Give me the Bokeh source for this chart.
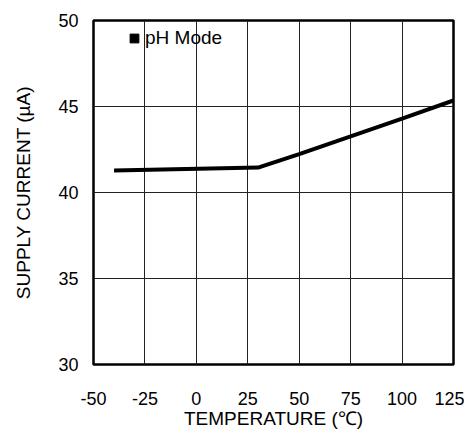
from bokeh.plotting import figure
from bokeh.models import Range1d, FixedTicker, Legend, LegendItem
from bokeh.embed import file_html
from bokeh.resources import INLINE

# data
temperature = [-40, 30, 50, 75, 100, 125]
supply_current = [41.28, 41.45, 42.23, 43.26, 44.30, 45.35]
x_ticks = [-50, -25, 0, 25, 50, 75, 100, 125]
y_ticks = [30, 35, 40, 45, 50]
series_name = "pH Mode"

FONT = "Liberation Sans"

p = figure(width=464, height=431, output_backend="svg", toolbar_location=None,
           x_range=Range1d(-50, 125), y_range=Range1d(30, 50),
           min_border_left=93, min_border_right=11, min_border_top=20, min_border_bottom=67)

p.background_fill_color = "white"
p.border_fill_color = "white"
p.outline_line_color = "black"
p.outline_line_width = 2.5

for ax in (p.xaxis[0], p.yaxis[0]):
    ax.axis_line_color = None
    ax.major_tick_line_color = None
    ax.minor_tick_line_color = None
    ax.major_label_text_font = FONT
    ax.major_label_text_font_size = "18px"
    ax.major_label_text_color = "black"
    ax.axis_label_text_font = FONT
    ax.axis_label_text_font_size = "19px"
    ax.axis_label_text_font_style = "normal"
    ax.axis_label_text_color = "black"

p.xaxis.ticker = FixedTicker(ticks=x_ticks)
p.yaxis.ticker = FixedTicker(ticks=y_ticks)
p.xaxis.major_label_overrides = {t: str(t) for t in x_ticks}
p.yaxis.major_label_overrides = {t: str(t) for t in y_ticks}
p.xaxis.axis_label = "TEMPERATURE (℃)"
p.yaxis.axis_label = "SUPPLY CURRENT (µA)"
p.xaxis.major_label_standoff = 21
p.xaxis.axis_label_standoff = 0
p.yaxis.major_label_standoff = 9
p.yaxis.axis_label_standoff = 21

p.xgrid.ticker = FixedTicker(ticks=x_ticks)
p.ygrid.ticker = FixedTicker(ticks=y_ticks)
p.grid.grid_line_color = "#222222"
p.grid.grid_line_width = 1

p.line(temperature, supply_current, line_color="black", line_width=4)
marker = p.scatter(temperature, supply_current, marker="square", size=0,
                   fill_color="black", line_color="black")

legend = Legend(items=[LegendItem(label=series_name, renderers=[marker])],
                location=(30, 315), padding=0, margin=0, spacing=0,
                glyph_width=22, glyph_height=22, label_standoff=-2,
                label_text_font=FONT, label_text_font_size="19px",
                label_text_color="black",
                border_line_alpha=0, background_fill_alpha=0)
p.add_layout(legend)

open("out.html", "w").write(file_html(p, INLINE))
